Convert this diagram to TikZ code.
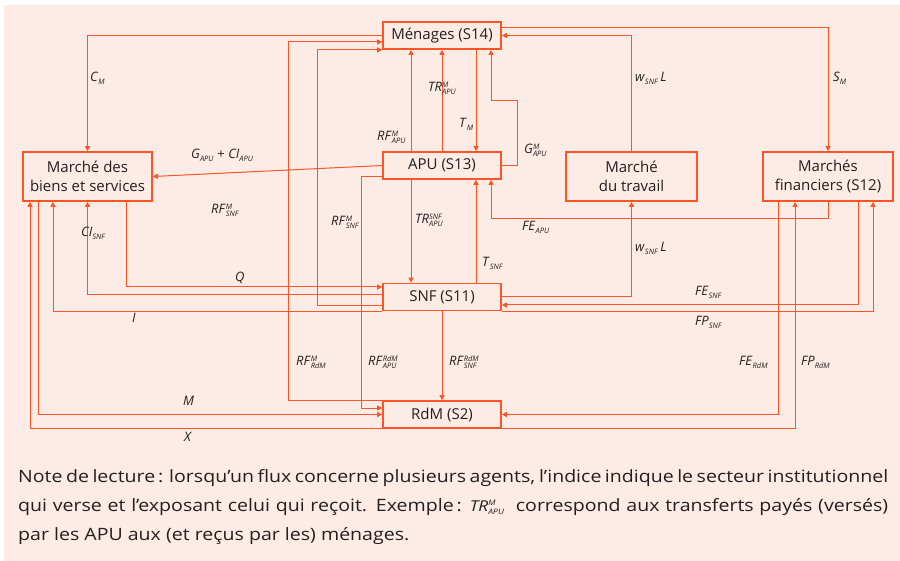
\documentclass[tikz,border=0pt]{standalone}
\usepackage{fontspec}
\setmainfont{Open Sans}
\newfontfamily\notefont{Open Sans}[FakeStretch=1.15]
\usetikzlibrary{arrows.meta}
\definecolor{fluxred}{RGB}{255,84,38}
\definecolor{notebg}{RGB}{253,236,230}
\definecolor{inkgray}{RGB}{35,31,32}
\newcommand{\flx}[3]{\textit{#1}$^{\mbox{\fontsize{7.5}{7.5}\selectfont\itshape #3}}_{\mbox{\fontsize{7.5}{7.5}\selectfont\itshape #2}}$}
\begin{document}
\begin{tikzpicture}[x=1pt, y=-1pt, text=inkgray,
  agent/.style={draw=fluxred, line width=1.7pt, minimum width=118pt, minimum height=27pt, inner sep=0pt, font=\fontsize{15}{17}\selectfont},
  market/.style={agent, minimum width=130pt, minimum height=49pt, align=center, font=\fontsize{15}{19}\selectfont},
  flow/.style={draw=fluxred, line width=1pt, -{Triangle[length=5pt,width=5pt]}},
  lbl/.style={anchor=base west, inner sep=0pt, font=\fontsize{13}{15}\selectfont}]
\useasboundingbox (0,0) rectangle (900,561);
\fill[notebg] (4,5) rectangle (900,561);

\node[agent] (men) at (442,35.5) {Ménages (S14)};
\node[agent] (apu) at (442,165.5) {APU (S13)};
\node[agent] (snf) at (442,297) {SNF (S11)};
\node[agent] (rdm) at (442,414.5) {RdM (S2)};
\node[market, minimum width=129pt] (mbs) at (87.5,176.5) {Marché des\\biens et services};
\node[market, minimum width=131pt] (mtr) at (631.5,176.5) {Marché\\du travail};
\node[market] (mfi) at (828,176.5) {Marchés\\financiers (S12)};

\draw[flow] (men.west) -| (mbs.north);
\draw[flow] ([yshift=7.5pt]men.east) -| (mfi.north);
\draw[flow] (mtr.north) |- (men.east);
\draw[flow] (rdm.north west) -| ([xshift=-94pt,yshift=-6.5pt]men.west) -- ([yshift=-6.5pt]men.west);
\draw[flow] ([yshift=-9pt]snf.west) -| ([xshift=-65pt]men.south west) -- (men.south west);
\draw[flow] ([xshift=-31pt]apu.north) -- ([xshift=-31pt]men.south);
\draw[flow] (apu.north) -- (men.south);
\draw[flow] ([xshift=34pt]men.south) -- ([xshift=34pt]apu.north);
\draw[flow] (apu.east) -- ++(16,0) -- ++(0,-65) -| ([xshift=49pt]men.south);
\draw[flow] (apu.west) -- (mbs.east);
\draw[flow] ([yshift=-11.5pt]apu.west) -| ([xshift=-21pt,yshift=6.5pt]rdm.west) -- ([yshift=6.5pt]rdm.west);
\draw[flow] ([xshift=-31pt]apu.south) -- ([xshift=-31pt]snf.north);
\draw[flow] ([xshift=34pt]snf.north) -- ([xshift=34pt]apu.south);
\draw[flow] (mfi.south) -- ++(0,17) -| ([xshift=49pt]apu.south);
\draw[flow] ([xshift=38.5pt]mbs.south) |- ([yshift=10pt]snf.west);
\draw[flow] ([yshift=2pt]snf.west) -| (mbs.south);
\draw[flow] (snf.south west) -| ([xshift=-34.5pt]mbs.south);
\draw[flow] ([xshift=-49.5pt]mbs.south) |- (rdm.west);
\draw[flow] (rdm.south west) -| ([xshift=-57.5pt]mbs.south);
\draw[flow] (snf.south) -- (rdm.north);
\draw[flow] (snf.east) -| (mtr.south);
\draw[flow] ([xshift=30pt]mfi.south) |- ([yshift=-8pt]snf.east);
\draw[flow] (snf.south east) -| ([xshift=45pt]mfi.south);
\draw[flow] ([xshift=-50pt]mfi.south) |- (rdm.east);
\draw[flow] (rdm.south east) -| ([xshift=-33pt]mfi.south);

\node[lbl] (lcm) at (90,82) {\flx{C}{M}{}};
\node[lbl] (lsm) at (833,82) {\flx{S}{M}{}};
\node[lbl] (lwa) at (635,82) {\flx{w}{SNF}{}\,\textit{L}};
\node[lbl] (lga) at (191,159) {\flx{G}{APU}{} + \flx{CI}{APU}{}};
\node[lbl] (lrs) at (211,214) {\flx{RF}{SNF}{M}};
\node[lbl] (lra) at (377,141) {\flx{RF}{APU}{M}};
\node[lbl] (ltr) at (428,92) {\flx{TR}{APU}{M}};
\node[lbl] (ltm) at (459,128) {\flx{T}{M}{}};
\node[lbl] (lgm) at (524,154) {\flx{G}{APU}{M}};
\node[lbl] (lrm) at (331,226) {\flx{RF}{SNF}{M}};
\node[lbl] (lts) at (415,224) {\flx{TR}{APU}{SNF}};
\node[lbl] (lfa) at (522,231) {\flx{FE}{APU}{}};
\node[lbl] (lwb) at (635,252) {\flx{w}{SNF}{}\,\textit{L}};
\node[lbl] (lsn) at (482,267) {\flx{T}{SNF}{}};
\node[lbl] (lci) at (81,237) {\flx{CI}{SNF}{}};
\node[lbl] (lq) at (235,282) {\textit{Q}};
\node[lbl] (li) at (132,323) {\textit{I}};
\node[lbl] (lfs) at (695,296) {\flx{FE}{SNF}{}};
\node[lbl] (lps) at (695,326) {\flx{FP}{SNF}{}};
\node[lbl] (lrr) at (296,366) {\flx{RF}{RdM}{M}};
\node[lbl] (lar) at (368,366) {\flx{RF}{APU}{RdM}};
\node[lbl] (lsr) at (449,366) {\flx{RF}{SNF}{RdM}};
\node[lbl] (lfr) at (739,366) {\flx{FE}{RdM}{}};
\node[lbl] (lpr) at (801,366) {\flx{FP}{RdM}{}};
\node[lbl] (lm) at (183,406) {\textit{M}};
\node[lbl] (lx) at (184,441) {\textit{X}};

\node[anchor=north west, text width=870pt, align=justify, inner sep=0pt, font=\notefont\fontsize{17}{29}\selectfont] (note) at (18,469) {Note de lecture\,: lorsqu’un flux concerne plusieurs agents, l’indice indique le secteur institutionnel\linebreak qui verse et l’exposant celui qui reçoit. Exemple\,: {\fontsize{15}{17}\selectfont\flx{TR}{APU}{M}}\ \ correspond aux transferts payés (versés)\linebreak par les APU aux (et reçus par les) ménages.};
\end{tikzpicture}
\end{document}
